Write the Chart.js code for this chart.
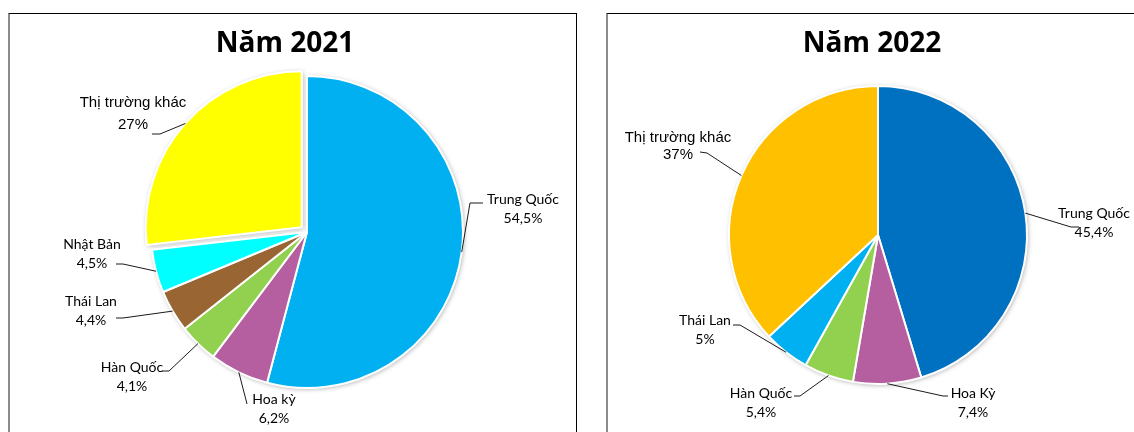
<!DOCTYPE html>
<html lang="vi">
<head>
<meta charset="utf-8">
<title>Cơ cấu thị trường 2021 - 2022</title>
<script src="https://cdn.jsdelivr.net/npm/chart.js"></script>
<style>
  body { margin: 0; background: #fff; width: 1134px; height: 432px; overflow: hidden; position: relative; }
  .frame { position: absolute; top: 13px; height: 440px; box-sizing: border-box;
           border-top: 1px solid #000; border-left: 2px solid #8c8c8c; }
  #frame2021 { left: 8px; width: 569px; border-right: 1px solid #000; }
  #frame2022 { left: 606px; width: 540px; }
  canvas { position: absolute; top: 0; }
  #pie2021 { left: 0; }
  #pie2022 { left: 610px; }
</style>
</head>
<body>
<div class="frame" id="frame2021"></div>
<div class="frame" id="frame2022"></div>
<canvas id="pie2021" width="570" height="432"></canvas>
<canvas id="pie2022" width="524" height="432"></canvas>
<script>
// market shares (%), clockwise from 12 o'clock
const markets2021 = ['Trung Quốc', 'Hoa kỳ', 'Hàn Quốc', 'Thái Lan', 'Nhật Bản', 'Thị trường khác'];
const shares2021 = [54.5, 6.2, 4.1, 4.4, 4.5, 27];
const colors2021 = ['#00b0f0', '#b65fa0', '#92d050', '#996633', '#00ffff', '#ffff00'];

const markets2022 = ['Trung Quốc', 'Hoa Kỳ', 'Hàn Quốc', 'Thái Lan', 'Thị trường khác'];
const shares2022 = [45.4, 7.4, 5.4, 5, 37];
const colors2022 = ['#0070c0', '#b65fa0', '#92d050', '#00b0f0', '#ffc000'];

// callout geometry relative to the pie centre: elbow point, line end, text centre
const callouts2021 = [
  { elbow: [163, -29], end: [176, -29], text: [216, -33] },
  { elbow: [-61, 168], end: [-60, 172], text: [-33, 167] },
  { elbow: [-138, 139], end: [-145, 139], text: [-175, 135] },
  { elbow: [-184, 86], end: [-191, 86], text: [-216, 69] },
  { elbow: [-184, 32], end: [-191, 32], text: [-215, 12] },
  { elbow: [-147, -98], end: [-155, -98], text: [-174, -129], arial: true, gap: 22 }
];
const callouts2022 = [
  { elbow: [193, -8], end: [201, -8], text: [216, -22] },
  { elbow: [65, 161], end: [70, 161], text: [95, 158] },
  { elbow: [-78, 161], end: [-84, 161], text: [-117, 158] },
  { elbow: [-138, 90], end: [-145, 90], text: [-173, 85] },
  { elbow: [-171, -82], end: [-178, -83], text: [-200, -97], arial: true, gap: 17 }
];

function pct(v) {
  return String(v).replace('.', ',') + '%';
}

const calloutPlugin = {
  id: 'callouts',
  beforeDatasetsDraw(chart) {
    // soft drop shadow under every slice
    const ctx = chart.ctx;
    chart.getDatasetMeta(0).data.forEach(arc => {
      const mid = (arc.startAngle + arc.endAngle) / 2;
      const shift = (arc.options.offset || 0) / 4;
      ctx.save();
      ctx.translate(Math.cos(mid) * shift, Math.sin(mid) * shift);
      ctx.shadowColor = 'rgba(0,0,0,0.35)';
      ctx.shadowBlur = 5;
      ctx.shadowOffsetX = 1;
      ctx.shadowOffsetY = 1;
      ctx.beginPath();
      ctx.moveTo(arc.x, arc.y);
      ctx.arc(arc.x, arc.y, arc.outerRadius, arc.startAngle, arc.endAngle);
      ctx.closePath();
      ctx.fillStyle = '#fff';
      ctx.fill();
      ctx.restore();
    });
  },
  afterDatasetsDraw(chart, args, opts) {
    const ctx = chart.ctx;
    const area = chart.chartArea;
    const cx = (area.left + area.right) / 2;
    const cy = (area.top + area.bottom) / 2;
    const values = chart.data.datasets[0].data;
    chart.getDatasetMeta(0).data.forEach((arc, i) => {
      const c = opts.items[i];
      const mid = (arc.startAngle + arc.endAngle) / 2;
      const shift = (arc.options.offset || 0) / 4;
      const r = arc.outerRadius + shift;
      ctx.save();
      ctx.strokeStyle = '#1a1a1a';
      ctx.lineWidth = 1;
      ctx.beginPath();
      ctx.moveTo(arc.x + Math.cos(mid) * r, arc.y + Math.sin(mid) * r);
      ctx.lineTo(cx + c.elbow[0], cy + c.elbow[1]);
      ctx.lineTo(cx + c.end[0], cy + c.end[1]);
      ctx.stroke();

      ctx.fillStyle = '#000';
      ctx.textAlign = 'center';
      ctx.textBaseline = 'middle';
      ctx.font = c.arial ? '15px "Liberation Sans", Arial, sans-serif' : '14px Lato, sans-serif';
      const gap = c.gap || 19;
      ctx.fillText(chart.data.labels[i], cx + c.text[0], cy + c.text[1]);
      ctx.fillText(pct(values[i]), cx + c.text[0], cy + c.text[1] + gap);
      ctx.restore();
    });

    // chart heading
    ctx.save();
    ctx.fillStyle = '#000';
    ctx.textAlign = 'center';
    ctx.textBaseline = 'alphabetic';
    ctx.font = 'bold 28px "Open Sans", sans-serif';
    ctx.fillText(opts.title, chart.width / 2, 52);
    ctx.restore();
  }
};

function makePie(id, title, labels, values, colors, offsets, callouts, padding, radius) {
  return new Chart(document.getElementById(id), {
    type: 'pie',
    data: {
      labels: labels,
      datasets: [{
        data: values,
        backgroundColor: colors,
        borderColor: '#ffffff',
        borderWidth: 2,
        offset: offsets
      }]
    },
    options: {
      responsive: false,
      animation: false,
      events: [],
      radius: radius,
      layout: { padding: padding },
      plugins: {
        legend: { display: false },
        tooltip: { enabled: false },
        title: { display: false },
        callouts: { items: callouts, title: title }
      }
    },
    plugins: [calloutPlugin]
  });
}

makePie('pie2021', 'Năm 2021', markets2021, shares2021, colors2021,
  [0, 0, 0, 0, 0, 28], callouts2021, { left: 44, right: 0, top: 58, bottom: 26 }, 156);
makePie('pie2022', 'Năm 2022', markets2022, shares2022, colors2022,
  0, callouts2022, { left: 12, right: 0, top: 58, bottom: 20 }, 149);
</script>
</body>
</html>
